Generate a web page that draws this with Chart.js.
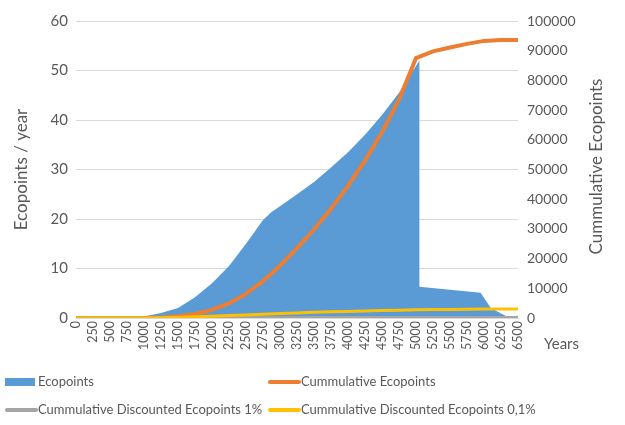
<!DOCTYPE html>
<html>
<head>
<meta charset="utf-8">
<script src="https://cdn.jsdelivr.net/npm/chart.js@4/dist/chart.umd.min.js"></script>
<style>
  html, body { margin: 0; padding: 0; background: #fff; }
  #wrap { width: 625px; height: 425px; position: relative; }
</style>
</head>
<body>
<div id="wrap"><canvas id="ecoChart"></canvas></div>
<script>
// tick labels
const yearTicks = [0, 250, 500, 750, 1000, 1250, 1500, 1750, 2000, 2250, 2500, 2750, 3000, 3250,
  3500, 3750, 4000, 4250, 4500, 4750, 5000, 5250, 5500, 5750, 6000, 6250, 6500];
const leftTicks = [0, 10, 20, 30, 40, 50, 60];
const rightTicks = [0, 10000, 20000, 30000, 40000, 50000, 60000, 70000, 80000, 90000, 100000];

// Ecopoints per year (left axis)
const ecoYears = [0, 750, 900, 1000, 1250, 1500, 1750, 2000, 2250, 2500, 2750, 2875, 3000, 3250,
  3500, 3750, 4000, 4250, 4500, 4750, 5050, 5050, 5500, 5950, 6100, 6350, 6500];
const ecoValues = [0, 0, 0, 0.3, 1.0, 2.0, 4.2, 7.0, 10.5, 15.0, 19.8, 21.4, 22.6, 25.0,
  27.5, 30.4, 33.5, 37.0, 41.0, 45.5, 52.0, 6.3, 5.7, 5.1, 2.0, 0.2, 0];

// cumulative series (right axis), one value per year in yearTicks
const cumulative = [0, 0, 0, 0, 30, 190, 570, 1350, 2750, 4900, 8100, 12400, 17600, 23500,
  29800, 36800, 44500, 53000, 62500, 73500, 87500, 89800, 91100, 92300, 93300, 93600, 93600];
const discounted1 = [0, 0, 0, 0, 5, 15, 25, 40, 55, 70, 85, 100, 110, 120,
  130, 140, 150, 155, 160, 165, 170, 172, 174, 176, 178, 178, 178];
const discounted01 = [0, 0, 0, 0, 20, 100, 250, 430, 630, 830, 1030, 1250, 1480, 1700,
  1900, 2080, 2230, 2380, 2520, 2650, 2780, 2850, 2900, 2950, 3000, 3020, 3020];

const textColor = '#595959';
const fontFamily = "Lato, 'Open Sans', sans-serif";
Chart.defaults.font.family = fontFamily;
Chart.defaults.color = textColor;

function toPoints(xs, ys) {
  return xs.map(function (x, i) { return { x: x, y: ys[i] }; });
}

// legend + right title + "Years" drawn by hand to match the layout
const extras = {
  id: 'extras',
  afterDraw: function (chart) {
    const ctx = chart.ctx;
    const area = chart.chartArea;
    ctx.save();
    ctx.fillStyle = textColor;
    ctx.textBaseline = 'middle';

    ctx.font = '15px ' + fontFamily;
    ctx.fillText('Years', area.right + 26, area.bottom + 26);

    ctx.save();
    ctx.translate(597, (area.top + area.bottom) / 2 - 3);
    ctx.rotate(-Math.PI / 2);
    ctx.textAlign = 'center';
    ctx.font = '17px ' + fontFamily;
    ctx.fillText('Cummulative Ecopoints', 0, 0);
    ctx.restore();

    const cols = [5, 268];
    const rows = [382, 410];
    ctx.font = '13px ' + fontFamily;
    chart.data.datasets.forEach(function (ds, i) {
      const x = cols[i % 2];
      const y = rows[Math.floor(i / 2)];
      if (ds.fill) {
        ctx.fillStyle = ds.backgroundColor;
        ctx.fillRect(x, y - 4, 30, 8);
      } else {
        ctx.strokeStyle = ds.borderColor;
        ctx.lineWidth = 4;
        ctx.lineCap = 'round';
        ctx.beginPath();
        ctx.moveTo(x + 2, y);
        ctx.lineTo(x + 31, y);
        ctx.stroke();
      }
      ctx.fillStyle = textColor;
      ctx.fillText(ds.label, x + 33, y);
    });
    ctx.restore();
  }
};

const ctx = document.getElementById('ecoChart').getContext('2d');
new Chart(ctx, {
  type: 'line',
  data: {
    datasets: [
      {
        label: 'Ecopoints',
        data: toPoints(ecoYears, ecoValues),
        yAxisID: 'y',
        fill: 'origin',
        backgroundColor: '#5B9BD5',
        borderColor: '#5B9BD5',
        borderWidth: 0,
        pointRadius: 0,
        order: 4
      },
      {
        label: 'Cummulative Ecopoints',
        data: toPoints(yearTicks, cumulative),
        yAxisID: 'y1',
        fill: false,
        borderColor: '#ED7D31',
        borderWidth: 4,
        pointRadius: 0,
        order: 3
      },
      {
        label: 'Cummulative Discounted Ecopoints 1%',
        data: toPoints(yearTicks, discounted1),
        yAxisID: 'y1',
        fill: false,
        borderColor: '#A5A5A5',
        borderWidth: 3,
        pointRadius: 0,
        order: 2
      },
      {
        label: 'Cummulative Discounted Ecopoints 0,1%',
        data: toPoints(yearTicks, discounted01),
        yAxisID: 'y1',
        fill: false,
        borderColor: '#FFC000',
        borderWidth: 3,
        pointRadius: 0,
        order: 1
      }
    ]
  },
  options: {
    responsive: true,
    maintainAspectRatio: false,
    animation: false,
    layout: { padding: { top: 21, left: 0, right: 0, bottom: 0 } },
    plugins: {
      legend: { display: false },
      tooltip: { enabled: false }
    },
    scales: {
      x: {
        type: 'linear',
        min: 0,
        max: 6500,
        afterBuildTicks: function (s) { s.ticks = yearTicks.map(function (v) { return { value: v }; }); },
        afterFit: function (s) { s.height = 107; },
        ticks: {
          autoSkip: false,
          minRotation: 90,
          maxRotation: 90,
          padding: 3,
          font: { size: 12.5 },
          callback: function (v) { return String(v); }
        },
        grid: { display: false, drawTicks: false },
        border: { display: true, color: '#D9D9D9', width: 1 }
      },
      y: {
        position: 'left',
        min: 0,
        max: 60,
        afterBuildTicks: function (s) { s.ticks = leftTicks.map(function (v) { return { value: v }; }); },
        afterFit: function (s) { s.width = 76; },
        ticks: { padding: 8, font: { size: 15 }, callback: function (v) { return String(v); } },
        grid: { color: '#D9D9D9', lineWidth: 1, drawTicks: false },
        border: { display: false },
        title: {
          display: true,
          text: 'Ecopoints / year',
          font: { size: 17 },
          padding: { top: 11, bottom: 0 }
        }
      },
      y1: {
        position: 'right',
        min: 0,
        max: 100000,
        afterBuildTicks: function (s) { s.ticks = rightTicks.map(function (v) { return { value: v }; }); },
        afterFit: function (s) { s.width = 107; },
        ticks: { padding: 9, font: { size: 14 }, callback: function (v) { return String(v); } },
        grid: { display: false, drawTicks: false },
        border: { display: false }
      }
    }
  },
  plugins: [extras]
});
</script>
</body>
</html>
